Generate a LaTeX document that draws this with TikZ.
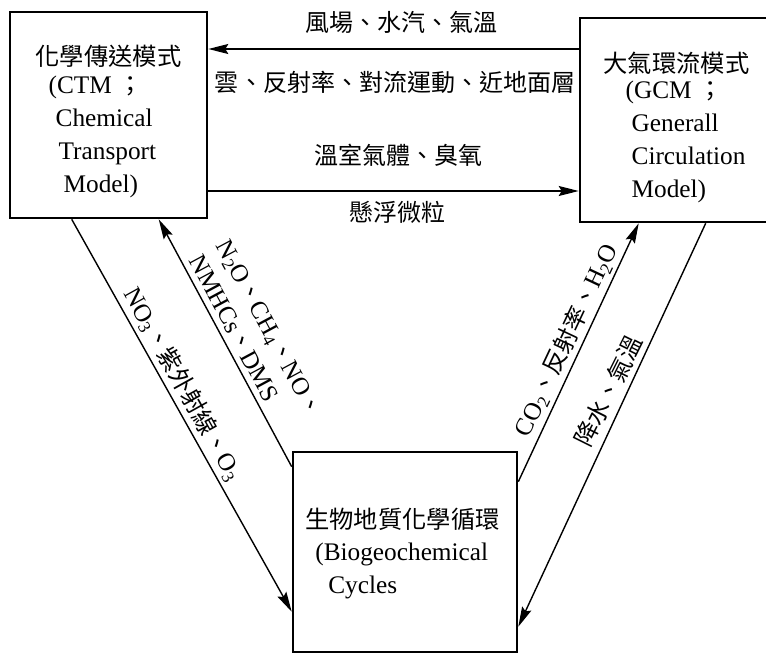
\documentclass[tikz,border=0pt]{standalone}
\usepackage{fontspec}
\setmainfont{Liberation Serif}
\newfontfamily\cjk[Scale=0.96]{Noto Sans CJK TC}
\usetikzlibrary{arrows.meta}
\newcommand{\zh}[1]{{\cjk #1}}

\begin{document}
\begin{tikzpicture}[x=1bp,y=-1bp,
  box/.style={draw, line width=2.6bp, inner sep=0pt},
  arr/.style={line width=1.4bp, -{Stealth[length=20bp,width=10bp,inset=3bp]}},
  txt/.style={inner sep=0pt, align=left, font=\fontsize{25.3bp}{33bp}\selectfont},
  lbl/.style={inner sep=0pt, font=\fontsize{25bp}{31bp}\selectfont},
]
\fill[white] (0,0) rectangle (766,657);
\useasboundingbox (0,0) rectangle (766,657);

% boxes
\node[box, minimum width=197bp, minimum height=206bp] (ctm) at (108.5,115) {};
\node[box, minimum width=195bp, minimum height=204bp] (gcm) at (677.5,120) {};
\node[box, minimum width=224bp, minimum height=200bp] (bio) at (405,552) {};

% box texts
\node[txt] (ctmtxt) at (108.5,121) {\zh{化學傳送模式}\\[-5bp]\hspace*{13bp}(CTM \zh{；}\\ \hspace*{20bp}Chemical\\ \hspace*{23bp}Transport\\ \hspace*{28bp}Model)};
\node[txt] (gcmtxt) at (676.5,127) {\zh{大氣環流模式}\\[-7bp]\hspace*{22bp}(GCM \zh{；}\\ \hspace*{28bp}Generall\\ \hspace*{28bp}Circulation\\ \hspace*{28bp}Model)};
\node[txt] (biotxt) at (402.5,553.5) {\zh{生物地質化學循環}\\[-1bp]\hspace*{10bp}(Biogeochemical\\ \hspace*{23bp}Cycles};

% horizontal connectors
\coordinate (h1) at (0,49);
\coordinate (h2) at (0,191);
\draw[arr] (gcm.west |- h1) -- (ctm.east |- h1);
\draw[arr] (ctm.east |- h2) -- (gcm.west |- h2);

% diagonal connectors
\draw[arr] ([xshift=63bp]ctm.south west) -- ([yshift=-161bp]bio.north west);
\draw[arr] ([yshift=-16bp]bio.north west) -- ([xshift=150bp]ctm.south west);
\draw[arr] ([yshift=-31bp]bio.north east) -- ([xshift=60bp]gcm.south west);
\draw[arr] ([xshift=127bp]gcm.south west) -- ([yshift=-176bp]bio.north east);

% labels
\node[lbl] (t1) at (401,22) {\zh{風場、水汽、氣溫}};
\node[lbl] (t2) at (395,82) {\zh{雲、反射率、對流運動、近地面層}};
\node[lbl] (t3) at (398.5,155) {\zh{溫室氣體、臭氧}};
\node[lbl] (t4) at (397.5,212) {\zh{懸浮微粒}};

\node[lbl, rotate=-60.9] (la) at (183,384) {NO\textsubscript{3}\zh{、紫外射線、}O\textsubscript{3}};
\node[lbl, rotate=-61.8, align=left] (lb) at (256,336) {N\textsubscript{2}O\zh{、}CH\textsubscript{4}\zh{、}NO\zh{、}\\NMHCs\zh{、}DMS};
\node[lbl, rotate=64.8] (lc) at (566,340) {CO\textsubscript{2}\zh{、反射率、}H\textsubscript{2}O};
\node[lbl, rotate=63.5] (ld) at (608.5,391) {\zh{降水、氣溫}};
\end{tikzpicture}
\end{document}
